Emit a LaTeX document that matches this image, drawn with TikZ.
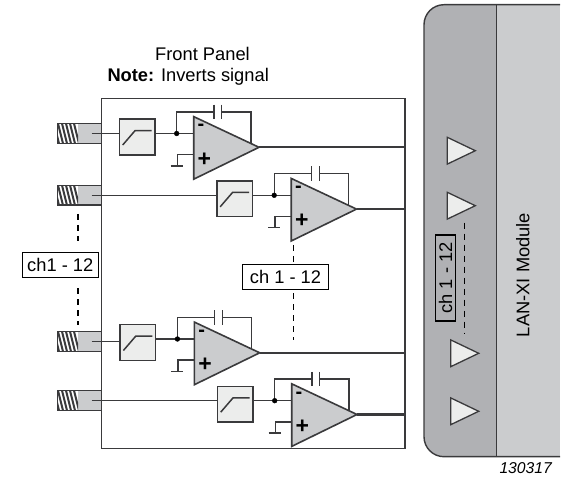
\documentclass[tikz,border=0pt]{standalone}
\usepackage{fontspec}
\setmainfont{Liberation Sans}
\definecolor{inkdark}{HTML}{3A3A3C}
\definecolor{moddark}{HTML}{B0B1B4}
\definecolor{modlight}{HTML}{CBCCCE}
\definecolor{boxlight}{HTML}{ECEDEC}
\tikzset{
  wire/.style={draw=inkdark,line width=1.4pt},
  outwire/.style={draw=inkdark,line width=2.2pt},
  chdash/.style={draw=black,line width=1.3pt,dash pattern=on 6pt off 5pt},
  filterbox/.style={draw=inkdark,line width=1.5pt,fill=boxlight,minimum size=35.6pt,inner sep=0pt},
  connbody/.style={draw=inkdark,line width=1.5pt,fill=modlight,minimum width=44.4pt,minimum height=19.7pt,inner sep=0pt},
  chlabel/.style={draw=black,line width=1.3pt,inner sep=0pt,font=\fontsize{18.3}{20}\selectfont},
  amptext/.style={inner sep=0pt,font=\fontsize{20}{20}\selectfont\bfseries},
}
\def\mainsize{\fontsize{18.3}{20}\selectfont}

\begin{document}
\begin{tikzpicture}[x=1pt,y=-1pt]
    \useasboundingbox (0,0) rectangle (566,478);
    % LAN-XI module
    \fill[modlight] (496.7,4.7) rectangle (560,456.7);
    \fill[moddark] (496.7,4.7) [rounded corners=20pt] -- (424,4.7) -- (424,456.7) [sharp corners] -- (496.7,456.7) -- cycle;
    \draw[inkdark,line width=1.4pt] (560,4.7) [rounded corners=20pt] -- (424,4.7) -- (424,456.7) [sharp corners] -- (560,456.7);
    \draw[inkdark,line width=1.3pt] (496.7,4.7) -- (496.7,456.7);
    \node[rotate=90,anchor=base,inner sep=0pt,font=\mainsize] (modname) at (529.3,275) {LAN-XI Module};
    % module inputs
    \foreach \tri/\tx/\ty in {1/447.3/150.7,2/447.3/205.7,3/450.7/353.3,4/450.7/411.3}{
        \draw[inkdark,line width=1.3pt,fill=boxlight] (\tx,\ty-13.4) coordinate (tri\tri) -- (\tx+28,\ty) -- (\tx,\ty+13.4) -- cycle;
    }
    \coordinate (moddashtop) at (464.3,222.7);
    \coordinate (moddashend) at (464.3,334);
    \draw[chdash] (moddashtop) -- (moddashend);
    \node[chlabel,rotate=90,minimum width=86pt,minimum height=20pt] (modlabel) at (445.7,278) {ch 1 - 12};
    % front panel
    \node[draw=inkdark,line width=1.5pt,minimum width=303.3pt,minimum height=350pt,inner sep=0pt] (panel) at (253.35,273.3) {};
    \node[anchor=base,inner sep=0pt,font=\mainsize] (paneltitle) at (202.5,60.7) {Front Panel};
    \node[anchor=base west,inner sep=0pt,font=\mainsize] (panelnote) at (107.3,81.7) {\textbf{Note:} Inverts signal};
    % channels: number, shift in x, signal level, connector level
    \foreach \ch/\sx/\sy/\cy in {1/0/133.5/133.5,2/97.5/195.3/195.3,3/0.7/339/341.5,4/98/400.7/400.5}{
        % connector with thread
        \node[connbody] (conn\ch) at (79.5,\cy) {};
        \begin{scope}
            \clip (57.3,\cy-9.8) rectangle (78,\cy+9.8);
            \fill[white] (57.3,\cy-9.8) rectangle (78,\cy+9.8);
            \foreach \k in {0,...,5}
                \draw[inkdark,line width=2pt] (54+\k*4,\cy-10) -- (59+\k*4,\cy+10);
        \end{scope}
        \draw[inkdark,line width=1.5pt] (57.3,\cy-9.8) -- (78,\cy-9.8) (57.3,\cy+9.8) -- (78,\cy+9.8);
        \draw[inkdark,line width=1.5pt] (57.3,\cy-9.8) -- (57.3,\cy+9.8);
        \coordinate (pin\ch) at (91.7,\cy);
        \begin{scope}[shift={(\sx,\sy)}]
            % filter
            \node[filterbox] (filt\ch) at (137.2,3.5) {};
            \draw[inkdark,line width=1.5pt] (122.7,11.5) -- (135,-2.8) -- (151.7,-2.8);
            \coordinate (dot\ch) at (176.7,0);
            % amplifier
            \coordinate (ampminus\ch) at (193.7,0);
            \coordinate (ampplus\ch) at (193.7,21.2);
            \coordinate (apex\ch) at (259,13.8);
            \draw[inkdark,line width=1.6pt,fill=modlight] (193.7,-16.9) -- (apex\ch) -- (193.7,45.7) -- cycle;
            \node[amptext] (minus\ch) at (201,-5.8) {-};
            \node[amptext,font=\fontsize{23}{23}\selectfont\bfseries] (plus\ch) at (204.3,25.8) {+};
            % feedback capacitor
            \coordinate (capl\ch) at (214,-21.5);
            \coordinate (capr\ch) at (221.7,-21.5);
            \coordinate (fbdown\ch) at (251,10);
            \draw[wire] (dot\ch) |- (capl\ch);
            \draw[wire] (capr\ch) -| (fbdown\ch);
            \draw[wire] (214,-28.8) -- (214,-14.2);
            \draw[wire] (221.7,-28.8) -- (221.7,-14.2);
            % ground
            \coordinate (gnd\ch) at (177.3,32.5);
            \draw[wire] (ampplus\ch) -| (gnd\ch);
            \draw[wire] (170.7,32.5) -- (182.7,32.5);
        \end{scope}
        \draw[wire] (pin\ch) -- (pin\ch -| filt\ch.west);
        \draw[wire] (filt\ch.east |- dot\ch) -- (ampminus\ch);
        \filldraw[black] (dot\ch) circle (2.4pt);
        \draw[outwire] (apex\ch) -- (apex\ch -| panel.east);
    }
    % channel labels
    \node[chlabel,fill=white,minimum width=76pt,minimum height=25.4pt] (leftlabel) at (60.3,265) {ch1 - 12};
    \node[chlabel,fill=white,minimum width=85.6pt,minimum height=25pt] (midlabel) at (285.5,277.2) {ch 1 - 12};
    \coordinate (leftdashtop) at (78,214);
    \coordinate (leftdashend) at (78,241);
    \coordinate (leftdashtwo) at (78,288.3);
    \coordinate (leftdashlow) at (78,325);
    \coordinate (middashtop) at (293.3,245);
    \coordinate (middashend) at (293.3,340);
    \draw[chdash] (leftdashtop) -- (leftdashend);
    \draw[chdash] (leftdashtwo) -- (leftdashlow);
    \draw[chdash] (middashtop) -- (midlabel.north -| middashtop);
    \draw[chdash] (midlabel.south -| middashend) ++(0,3) -- (middashend);
    % figure number
    \node[anchor=base west,inner sep=0pt,font=\fontsize{15.7}{18}\selectfont\itshape] (fignum) at (499.3,473.3) {130317};
\end{tikzpicture}
\end{document}
